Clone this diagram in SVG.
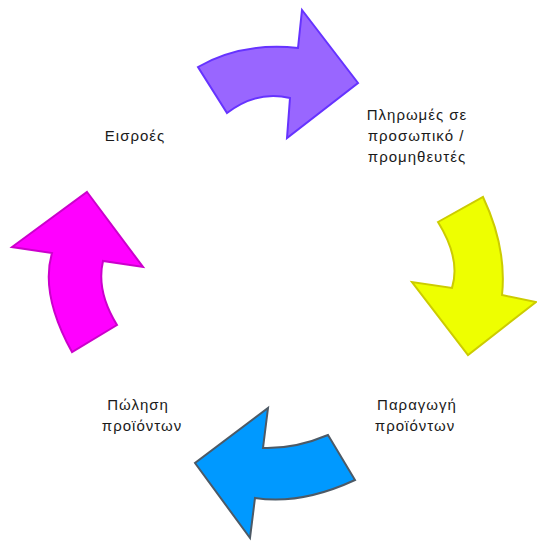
<svg xmlns="http://www.w3.org/2000/svg" width="537" height="541" viewBox="0 0 537 541">
  <style>
    .arrow { stroke-width: 2; stroke-linejoin: miter; }
    .lbl { font-family: "Liberation Sans", Arial, sans-serif; font-size: 15px; fill: #1a1a1a; text-anchor: middle; letter-spacing: 1px; }
  </style>
  <rect width="537" height="541" fill="#ffffff"/>
  <g id="connectors">
    <path id="arrow-purple" class="arrow" fill="#9966ff" stroke="#6633ff" d="M198,67 Q242,42 298,48 L302,10 L358,83 L287,138 L290,98 Q257,90 227,113 Z"/>
    <path id="arrow-yellow" class="arrow" fill="#eeff00" stroke="#cccc00" d="M438,222 L483,197 Q507,248 502,295 L536,302 L468,355 L412,282 L452,288 Q461,259 438,222 Z"/>
    <path id="arrow-blue" class="arrow" fill="#0099ff" stroke="#4d5a66" stroke-width="2.5" d="M328,435 L355,480 Q301,505 255,498 L250,538 L195,463 L268,408 L263,448 Q295,449 328,435 Z"/>
    <path id="arrow-magenta" class="arrow" fill="#ff00ff" stroke="#cc00cc" d="M87,192 L143,267 L103,261 Q96,291 117,325 L72,352 Q40,294 52,253 L12,247 Z"/>
  </g>
  <g id="node-inputs">
    <text class="lbl" x="135" y="141">Εισροές</text>
  </g>
  <g id="node-payments">
    <text class="lbl" x="417" y="120">Πληρωμές σε</text>
    <text class="lbl" x="416" y="141">προσωπικό /</text>
    <text class="lbl" x="417" y="162">προμηθευτές</text>
  </g>
  <g id="node-production">
    <text class="lbl" x="417" y="410">Παραγωγή</text>
    <text class="lbl" x="415" y="431">προϊόντων</text>
  </g>
  <g id="node-sales">
    <text class="lbl" x="138" y="410">Πώληση</text>
    <text class="lbl" x="142" y="431">προϊόντων</text>
  </g>
</svg>
